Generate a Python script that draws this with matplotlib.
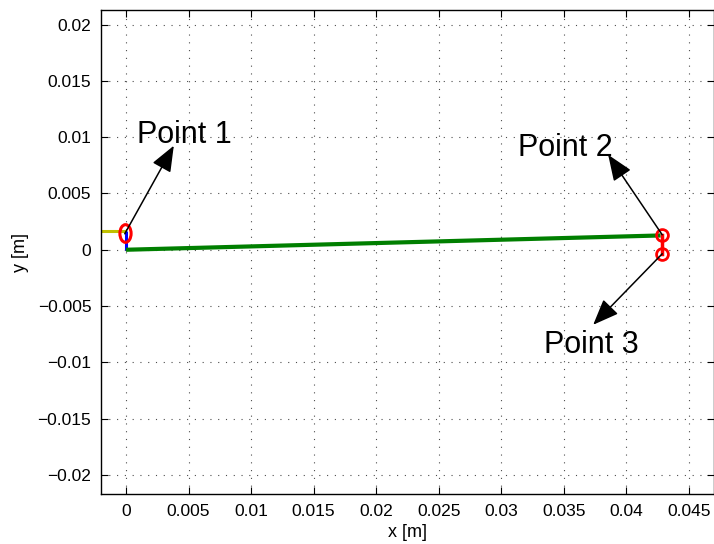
import numpy as np
import matplotlib.pyplot as plt
from matplotlib.markers import MarkerStyle
from matplotlib.transforms import Affine2D

# link segments [m]
yellow_x = [-0.002, 0.0]
yellow_y = [0.00164, 0.00164]
blue_x = [0.0, 0.0]
blue_y = [0.00164, 0.0]
green_x = [0.0, 0.04273]
green_y = [0.0, 0.00127]
red_x = [0.04286, 0.04286]
red_y = [0.00133, -0.00036]

# joint circles
circ_x = [0.04286, 0.04286]
circ_y = [0.00133, -0.00036]
ell_x = [-0.0001]
ell_y = [0.00147]

# annotated points
labels = ['Point 1', 'Point 2', 'Point 3']
pt_x = [-0.0001, 0.04286, 0.04286]
pt_y = [0.00142, 0.00133, -0.00036]

xticks = np.arange(0, 0.0451, 0.005)
yticks = np.arange(-0.02, 0.0201, 0.005)

plt.rcParams['font.family'] = ['Liberation Sans', 'DejaVu Sans']

fig = plt.figure(figsize=(7.14, 5.44), dpi=100)
ax = fig.add_axes([101/714, 50/544, 613/714, 484/544])

ax.plot(yellow_x, yellow_y, color='#c0c000', lw=2.2, solid_capstyle='butt')
ax.plot(blue_x, blue_y, color='#0000ff', lw=2.2, solid_capstyle='butt')
ax.plot(green_x, green_y, color='#007f00', lw=3, solid_capstyle='butt')
ax.plot(red_x, red_y, color='#ff0000', lw=2.5)
ax.plot(circ_x, circ_y, 'o', mfc='none', mec='#ff0000', mew=2, ms=8.5)
ell = MarkerStyle('o', transform=Affine2D().scale(0.95, 1.5))
ax.plot(ell_x, ell_y, marker=ell, ls='none', mfc='none', mec='#ff0000', mew=2.2, ms=8.5)

# arrow tip / text offsets in points from each point
tip_off = [(35.3, 63.4), (-38.9, 57.6), (-49.7, -51.1)]
txt_off = [(43.2, 65.5), (-69.6, 56.9), (-50.9, -71.3)]
for lab, x, y, t, o in zip(labels, pt_x, pt_y, tip_off, txt_off):
    ax.annotate('', xy=(x, y), xytext=t, textcoords='offset points',
                arrowprops=dict(arrowstyle='<|-,head_length=0.8,head_width=0.32',
                                mutation_scale=20, color='black', lw=1.1,
                                shrinkA=0, shrinkB=0))
    ax.annotate(lab, xy=(x, y), xytext=o, textcoords='offset points',
                ha='center', va='baseline', fontsize=22)

ax.set_xlim(-0.002, 0.047)
ax.set_ylim(-0.0217, 0.0213)
ax.set_xticks(xticks)
ax.set_yticks(yticks)
ax.set_xticklabels(['0'] + ['%g' % v for v in xticks[1:]])
ax.set_yticklabels(['\u22120.02', '\u22120.015', '\u22120.01', '\u22120.005', '0',
                    '0.005', '0.01', '0.015', '0.02'])
ax.tick_params(direction='in', length=5, width=0.8, top=True, right=True,
               labelsize=12.5, pad=7)
ax.grid(True, color='black', linestyle=(0, (1, 6)), linewidth=0.8, alpha=0.7)
for s in ax.spines.values():
    s.set_linewidth(1)

ax.set_xlabel('x [m]', fontsize=13, labelpad=4)
ax.set_ylabel('y [m]', fontsize=13, labelpad=6)

fig.savefig('out.png', dpi=100)
